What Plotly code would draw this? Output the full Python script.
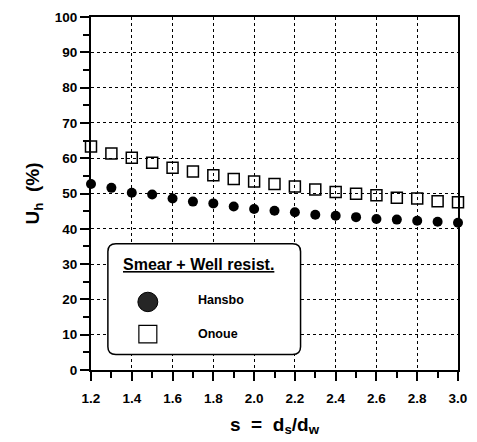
import plotly.graph_objects as go

s_vals = [1.2, 1.3, 1.4, 1.5, 1.6, 1.7, 1.8, 1.9, 2.0, 2.1, 2.2, 2.3, 2.4, 2.5, 2.6, 2.7, 2.8, 2.9, 3.0]
hansbo = [52.7, 51.6, 50.2, 49.7, 48.6, 47.7, 47.2, 46.3, 45.6, 45.1, 44.7, 44.0, 43.7, 43.3, 42.8, 42.6, 42.3, 42.0, 41.7]
onoue = [63.3, 61.3, 60.1, 58.7, 57.3, 56.2, 55.2, 54.1, 53.4, 52.7, 52.0, 51.1, 50.4, 49.9, 49.5, 48.8, 48.6, 47.8, 47.5]
x_ticks = [1.2, 1.4, 1.6, 1.8, 2.0, 2.2, 2.4, 2.6, 2.8, 3.0]
y_ticks = [0, 10, 20, 30, 40, 50, 60, 70, 80, 90, 100]

FONT = "Liberation Sans, Arial, sans-serif"

fig = go.Figure()
fig.add_trace(go.Scatter(x=s_vals, y=hansbo, mode="markers", name="Hansbo",
                         marker=dict(symbol="circle", size=10, color="black"),
                         cliponaxis=False, showlegend=False))
fig.add_trace(go.Scatter(x=s_vals, y=onoue, mode="markers", name="Onoue",
                         marker=dict(symbol="square-open", size=11, color="black",
                                     line=dict(width=1.5, color="black")),
                         cliponaxis=False, showlegend=False))

axis_common = dict(
    showline=True, mirror=True, linewidth=2, linecolor="black",
    showgrid=True, gridcolor="black", griddash="dot", gridwidth=1,
    ticks="outside", ticklen=9, tickwidth=2, tickcolor="black",
    tickfont=dict(family=FONT, size=13.5, color="black", weight="bold"),
    zeroline=False,
)

fig.update_xaxes(range=[1.2, 3.0], tickvals=x_ticks, ticktext=[f"{v:.1f}" for v in x_ticks],
                 ticklabelstandoff=6,
                 minor=dict(dtick=0.1, ticks="outside", ticklen=6, tickwidth=1.5, tickcolor="black", showgrid=False),
                 title=dict(text="s  =  d<sub>s</sub>/d<sub>w</sub>", font=dict(family=FONT, size=19, color="black", weight="bold"), standoff=12),
                 **axis_common)
fig.update_yaxes(range=[0, 100], tickvals=y_ticks,
                 minor=dict(dtick=5, ticks="outside", ticklen=6, tickwidth=1.5, tickcolor="black", showgrid=False),
                 title=dict(text="U<sub>h</sub>  (%)", font=dict(family=FONT, size=19, color="black", weight="bold"), standoff=10),
                 **axis_common)

# Legend box (rounded)
x0, x1, y0, y1 = 0.046, 0.571, 0.044, 0.358
rx, ry = 8 / 368, 8 / 363
path = (f"M {x0+rx},{y0} L {x1-rx},{y0} Q {x1},{y0} {x1},{y0+ry} L {x1},{y1-ry} Q {x1},{y1} {x1-rx},{y1} "
        f"L {x0+rx},{y1} Q {x0},{y1} {x0},{y1-ry} L {x0},{y0+ry} Q {x0},{y0} {x0+rx},{y0} Z")
fig.add_shape(type="path", path=path, xref="paper", yref="paper", layer="above",
              fillcolor="white", line=dict(color="black", width=1.5))

cx, cy = 0.1549, 0.1928
w, h = 10 / 368, 10 / 363
fig.add_shape(type="circle", xref="paper", yref="paper", layer="above",
              x0=cx - w, x1=cx + w, y0=cy - h, y1=cy + h,
              fillcolor="#262626", line=dict(color="black", width=1))
sx, sy = 0.1549, 0.1019
w2, h2 = 9 / 368, 9 / 363
fig.add_shape(type="rect", xref="paper", yref="paper", layer="above",
              x0=sx - w2, x1=sx + w2, y0=sy - h2, y1=sy + h2,
              fillcolor="white", line=dict(color="black", width=1.2))

fig.add_annotation(x=0.0815, y=0.2975, xref="paper", yref="paper", xanchor="left", yanchor="middle",
                   text="<u>Smear + Well resist.</u>", showarrow=False,
                   font=dict(family=FONT, size=16, color="black", weight="bold"))
fig.add_annotation(x=0.2853, y=0.1983, xref="paper", yref="paper", xanchor="left", yanchor="middle",
                   text="Hansbo", showarrow=False,
                   font=dict(family=FONT, size=12.5, color="black", weight="bold"))
fig.add_annotation(x=0.2853, y=0.1019, xref="paper", yref="paper", xanchor="left", yanchor="middle",
                   text="Onoue", showarrow=False,
                   font=dict(family=FONT, size=12.5, color="black", weight="bold"))

fig.update_layout(width=477, height=442, margin=dict(l=91, r=18, t=10, b=69),
                  paper_bgcolor="white", plot_bgcolor="white", showlegend=False)

fig.write_html("out.html")
